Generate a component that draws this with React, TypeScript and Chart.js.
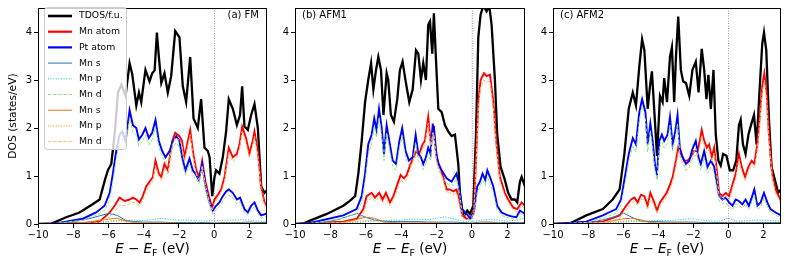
import React, { useEffect, useRef } from 'react';
import { Chart, registerables } from 'chart.js';

Chart.register(...registerables);

// ---------- shared axis data ----------
const xTicks = [-10, -8, -6, -4, -2, 0, 2];
const yTicks = [0, 1, 2, 3, 4];
const xMin = -10;
const xMax = 3;
const yMin = 0;
const yMax = 4.5;

const seriesLabels = ['TDOS/f.u.', 'Mn atom', 'Pt atom', 'Mn s', 'Mn p', 'Mn d', 'Mn s', 'Mn p', 'Mn d'];
const seriesColors = ['#000000', '#ff0000', '#0000ff', '#1f77b4', '#17becf', '#98df8a', '#e0702a', '#ff8c00', '#ffbb78'];
const seriesWidths = [2.3, 1.9, 1.9, 1, 1, 1, 1, 1, 1];
const seriesDashes: number[][] = [[], [], [], [], [1, 1.6], [3.5, 1.6], [], [1, 1.6], [3.5, 1.6]];

// coarse energy grid used by the small s / p projections
const smallE = [-10, -9.5, -9, -8.5, -8, -7.5, -7, -6.5, -6, -5.5, -5, -4.5, -4, -3.5, -3, -2.5, -2, -1.5, -1, -0.5, 0, 0.5, 1, 1.5, 2, 2.5, 3];

// ---------- (a) FM ----------
const fmTdosE = [-10, -9.3, -8.4, -7.64, -6.9, -6.5, -6.2, -6.03, -5.84, -5.65, -5.46, -5.27, -5.03, -4.8, -4.65, -4.42, -4.27, -4.14, -3.9, -3.67, -3.52, -3.38, -3.25, -3.14, -3.0, -2.82, -2.63, -2.44, -2.21, -1.97, -1.78, -1.59, -1.36, -1.17, -0.93, -0.74, -0.55, -0.36, -0.26, -0.11, 0.02, 0.11, 0.3, 0.49, 0.68, 0.83, 1.06, 1.29, 1.47, 1.59, 1.72, 1.91, 2.1, 2.29, 2.48, 2.67, 2.86, 3.0];
const fmTdos = [0, 0, 0.14, 0.24, 0.41, 0.51, 0.92, 1.12, 1.25, 1.86, 2.74, 2.9, 2.67, 3.35, 3.12, 2.47, 2.74, 2.54, 3.21, 2.97, 3.14, 3.2, 3.99, 3.48, 2.94, 3.14, 2.74, 3.08, 4.02, 3.89, 2.87, 2.54, 3.48, 2.2, 2.0, 2.6, 1.59, 1.52, 1.39, 0.58, 0.98, 1.12, 1.05, 1.39, 1.93, 2.6, 2.4, 2.06, 2.27, 2.87, 2.03, 1.96, 2.27, 2.5, 2.0, 0.78, 0.65, 0.7];
const fmMnE = [-10, -7.0, -6.5, -5.93, -5.65, -5.37, -5.08, -4.8, -4.61, -4.42, -4.23, -4.05, -3.86, -3.67, -3.48, -3.33, -3.14, -3.0, -2.82, -2.63, -2.38, -2.21, -1.97, -1.82, -1.69, -1.53, -1.36, -1.21, -1.02, -0.83, -0.68, -0.49, -0.3, -0.11, 0.02, 0.21, 0.4, 0.59, 0.83, 1.06, 1.29, 1.44, 1.59, 1.81, 2.0, 2.19, 2.29, 2.48, 2.67, 2.86, 3.0];
const fmMn = [0, 0.02, 0.05, 0.24, 0.38, 0.55, 0.48, 0.51, 0.55, 0.51, 0.45, 0.58, 0.78, 0.88, 0.98, 1.32, 1.05, 0.98, 1.25, 1.12, 1.73, 1.9, 1.83, 1.73, 1.39, 1.66, 1.96, 1.52, 1.12, 0.98, 1.32, 0.88, 0.58, 0.34, 0.51, 0.61, 0.72, 0.98, 1.59, 1.39, 1.46, 1.66, 2.03, 1.79, 1.46, 1.73, 1.93, 1.52, 0.78, 0.45, 0.38];
const fmMnD2 = [0, 0.01, 0.03, 0.15, 0.25, 0.4, 0.38, 0.42, 0.45, 0.43, 0.38, 0.5, 0.7, 0.8, 0.9, 1.22, 0.97, 0.9, 1.16, 1.04, 1.63, 1.8, 1.74, 1.64, 1.3, 1.57, 1.86, 1.43, 1.04, 0.9, 1.22, 0.8, 0.5, 0.28, 0.44, 0.54, 0.65, 0.9, 1.5, 1.3, 1.38, 1.57, 1.93, 1.7, 1.38, 1.64, 1.83, 1.43, 0.7, 0.39, 0.33];
const fmPtE = [-10, -9.0, -7.45, -6.7, -6.22, -5.93, -5.75, -5.56, -5.37, -5.22, -5.03, -4.8, -4.61, -4.42, -4.27, -4.08, -3.9, -3.71, -3.52, -3.33, -3.14, -2.95, -2.76, -2.53, -2.34, -2.15, -1.97, -1.82, -1.63, -1.4, -1.21, -1.02, -0.87, -0.68, -0.49, -0.26, -0.08, 0.11, 0.3, 0.49, 0.68, 0.83, 1.06, 1.29, 1.47, 1.72, 1.91, 2.1, 2.29, 2.48, 2.67, 3.0];
const fmPt = [0, 0.01, 0.11, 0.24, 0.38, 0.65, 1.05, 1.52, 1.86, 1.93, 1.73, 2.37, 2.06, 2.0, 1.76, 1.86, 2.0, 1.79, 1.9, 2.17, 1.73, 1.52, 1.39, 1.52, 1.73, 1.83, 1.73, 1.39, 1.12, 1.36, 1.12, 1.02, 0.92, 1.25, 0.78, 0.45, 0.28, 0.38, 0.45, 0.58, 0.68, 0.72, 0.65, 0.51, 0.55, 0.31, 0.24, 0.38, 0.45, 0.28, 0.18, 0.22];
const fmMnD1 = [0, 0.01, 0.08, 0.18, 0.28, 0.5, 0.88, 1.35, 1.7, 1.78, 1.6, 2.2, 1.9, 1.85, 1.62, 1.72, 1.85, 1.65, 1.76, 2.02, 1.6, 1.4, 1.28, 1.4, 1.6, 1.7, 1.6, 1.28, 1.02, 1.25, 1.02, 0.93, 0.84, 1.15, 0.7, 0.38, 0.2, 0.3, 0.36, 0.48, 0.56, 0.6, 0.54, 0.42, 0.46, 0.24, 0.18, 0.3, 0.36, 0.21, 0.12, 0.16];
const fmMnS1 = [0, 0, 0.01, 0.03, 0.05, 0.08, 0.12, 0.17, 0.22, 0.18, 0.07, 0.05, 0.04, 0.04, 0.04, 0.03, 0.03, 0.03, 0.03, 0.03, 0.02, 0.03, 0.03, 0.03, 0.04, 0.03, 0.03];
const fmMnP1 = [0, 0, 0, 0, 0, 0.01, 0.01, 0.02, 0.04, 0.06, 0.08, 0.08, 0.07, 0.09, 0.12, 0.09, 0.08, 0.08, 0.07, 0.06, 0.07, 0.08, 0.08, 0.09, 0.08, 0.06, 0.05];
const fmMnS2 = [0, 0, 0, 0.01, 0.02, 0.03, 0.05, 0.08, 0.1, 0.12, 0.06, 0.03, 0.02, 0.02, 0.02, 0.02, 0.01, 0.01, 0.01, 0.01, 0.01, 0.01, 0.01, 0.01, 0.01, 0.01, 0.01];
const fmMnP2 = [0, 0, 0, 0, 0.01, 0.01, 0.02, 0.04, 0.06, 0.08, 0.05, 0.03, 0.03, 0.03, 0.03, 0.03, 0.02, 0.02, 0.02, 0.02, 0.02, 0.03, 0.03, 0.03, 0.03, 0.02, 0.02];

// ---------- (b) AFM1 ----------
const afm1TdosE = [-10, -9.6, -9.15, -8.2, -7.27, -6.9, -6.6, -6.42, -6.23, -6.04, -5.86, -5.7, -5.57, -5.42, -5.29, -5.14, -5.0, -4.82, -4.73, -4.58, -4.41, -4.22, -4.07, -3.92, -3.73, -3.54, -3.35, -3.16, -3.03, -2.88, -2.75, -2.6, -2.47, -2.37, -2.24, -2.15, -2.03, -1.9, -1.71, -1.53, -1.34, -1.15, -0.96, -0.77, -0.68, -0.55, -0.4, -0.26, -0.11, 0.08, 0.23, 0.36, 0.49, 0.64, 0.83, 0.98, 1.11, 1.3, 1.43, 1.62, 1.86, 2.05, 2.24, 2.43, 2.56, 2.71, 2.81, 3.0];
const afm1Tdos = [0, 0, 0.07, 0.21, 0.38, 0.48, 0.58, 1.05, 1.73, 2.54, 3.0, 3.35, 2.8, 3.21, 3.48, 3.21, 2.27, 3.14, 3.0, 2.27, 2.13, 2.6, 3.21, 3.38, 2.94, 2.54, 2.8, 3.62, 3.55, 3.0, 3.35, 3.0, 4.15, 4.22, 3.55, 4.39, 3.41, 2.4, 2.33, 2.06, 1.93, 1.83, 1.86, 1.25, 0.65, 0.28, 0.18, 0.28, 0.21, 0.38, 1.86, 3.89, 4.36, 4.55, 4.43, 4.55, 4.16, 3.0, 1.86, 1.19, 0.92, 0.65, 0.51, 0.51, 0.45, 0.88, 0.98, 0.78];
const afm1MnE = [-10, -7.27, -6.5, -6.14, -5.95, -5.67, -5.48, -5.24, -5.05, -4.86, -4.63, -4.44, -4.22, -4.03, -3.84, -3.69, -3.5, -3.31, -3.13, -2.98, -2.79, -2.66, -2.47, -2.34, -2.18, -2.0, -1.81, -1.62, -1.43, -1.24, -1.05, -0.87, -0.72, -0.55, -0.3, -0.08, 0.11, 0.23, 0.36, 0.49, 0.68, 0.83, 1.02, 1.21, 1.39, 1.58, 1.86, 2.05, 2.34, 2.56, 2.81, 3.0];
const afm1Mn = [0, 0.05, 0.11, 0.31, 0.58, 0.65, 0.55, 0.65, 0.51, 0.65, 0.45, 0.58, 0.82, 1.02, 0.95, 1.02, 1.22, 1.39, 1.52, 1.46, 1.66, 1.73, 2.23, 1.73, 2.0, 1.39, 1.19, 0.98, 0.72, 0.72, 0.68, 0.72, 0.51, 0.18, 0.11, 0.12, 0.31, 1.32, 2.54, 3.0, 3.14, 3.08, 3.11, 2.54, 1.66, 0.98, 0.65, 0.51, 0.34, 0.31, 0.45, 0.38];
const afm1MnD2 = [0, 0.03, 0.07, 0.2, 0.45, 0.55, 0.47, 0.56, 0.44, 0.56, 0.38, 0.5, 0.72, 0.92, 0.86, 0.93, 1.12, 1.3, 1.42, 1.37, 1.56, 1.63, 2.1, 1.63, 1.9, 1.3, 1.1, 0.9, 0.65, 0.65, 0.61, 0.65, 0.45, 0.14, 0.08, 0.09, 0.25, 1.2, 2.4, 2.86, 3.0, 2.95, 2.98, 2.42, 1.56, 0.9, 0.58, 0.45, 0.29, 0.26, 0.38, 0.32];
const afm1PtE = [-10, -9.15, -7.27, -6.52, -6.23, -6.04, -5.86, -5.67, -5.52, -5.39, -5.25, -5.1, -4.97, -4.82, -4.67, -4.48, -4.29, -4.1, -3.94, -3.75, -3.56, -3.35, -3.18, -3.03, -2.88, -2.75, -2.6, -2.47, -2.34, -2.22, -2.15, -2.03, -1.9, -1.71, -1.43, -1.15, -0.87, -0.72, -0.55, -0.3, -0.08, 0.11, 0.3, 0.45, 0.6, 0.75, 0.87, 1.02, 1.21, 1.43, 1.68, 1.96, 2.24, 2.52, 2.71, 3.0];
const afm1Pt = [0, 0.02, 0.18, 0.31, 0.58, 1.05, 1.66, 1.86, 2.2, 1.96, 2.4, 2.0, 1.46, 2.06, 1.73, 1.32, 1.25, 1.73, 2.0, 1.52, 1.32, 1.39, 1.86, 1.46, 1.39, 1.25, 1.39, 1.59, 1.46, 2.06, 2.03, 1.52, 1.25, 1.12, 0.95, 0.88, 1.05, 0.78, 0.31, 0.21, 0.11, 0.24, 0.78, 0.88, 1.05, 0.92, 1.12, 0.98, 0.78, 0.38, 0.24, 0.19, 0.16, 0.14, 0.28, 0.21];
const afm1MnD1 = [0, 0.01, 0.12, 0.22, 0.45, 0.88, 1.45, 1.68, 2.02, 1.8, 2.22, 1.84, 1.32, 1.9, 1.58, 1.2, 1.12, 1.58, 1.84, 1.38, 1.2, 1.26, 1.7, 1.32, 1.26, 1.13, 1.26, 1.45, 1.32, 1.9, 1.87, 1.38, 1.13, 1.0, 0.85, 0.78, 0.94, 0.68, 0.24, 0.15, 0.07, 0.17, 0.66, 0.76, 0.9, 0.8, 0.98, 0.85, 0.66, 0.3, 0.18, 0.14, 0.11, 0.1, 0.22, 0.16];
const afm1MnS1 = [0, 0, 0.01, 0.03, 0.06, 0.1, 0.16, 0.22, 0.14, 0.08, 0.06, 0.05, 0.05, 0.05, 0.05, 0.04, 0.04, 0.04, 0.04, 0.03, 0.02, 0.04, 0.04, 0.03, 0.03, 0.03, 0.03];
const afm1MnP1 = [0, 0, 0, 0, 0, 0.01, 0.02, 0.03, 0.05, 0.06, 0.07, 0.08, 0.08, 0.1, 0.1, 0.09, 0.12, 0.15, 0.1, 0.06, 0.04, 0.08, 0.1, 0.08, 0.06, 0.08, 0.12];
const afm1MnS2 = [0, 0, 0, 0.01, 0.02, 0.03, 0.05, 0.1, 0.14, 0.12, 0.04, 0.03, 0.02, 0.02, 0.02, 0.02, 0.02, 0.01, 0.01, 0.01, 0.01, 0.02, 0.02, 0.01, 0.01, 0.01, 0.01];
const afm1MnP2 = [0, 0, 0, 0, 0.01, 0.02, 0.03, 0.05, 0.07, 0.08, 0.04, 0.03, 0.03, 0.03, 0.03, 0.03, 0.03, 0.02, 0.02, 0.02, 0.01, 0.03, 0.04, 0.03, 0.02, 0.02, 0.02];

// ---------- (c) AFM2 ----------
const afm2TdosE = [-10, -9.1, -8.1, -7.16, -6.6, -6.2, -5.93, -5.68, -5.45, -5.27, -5.08, -4.92, -4.79, -4.6, -4.47, -4.36, -4.22, -4.07, -3.9, -3.75, -3.66, -3.5, -3.33, -3.22, -3.09, -2.99, -2.86, -2.71, -2.58, -2.42, -2.23, -2.05, -1.86, -1.7, -1.52, -1.38, -1.25, -1.14, -1.0, -0.85, -0.72, -0.57, -0.44, -0.3, -0.11, 0.08, 0.27, 0.45, 0.6, 0.7, 0.83, 0.98, 1.14, 1.29, 1.46, 1.61, 1.78, 1.93, 2.03, 2.16, 2.31, 2.46, 2.65, 2.84, 3.0];
const afm2Tdos = [0, 0, 0.18, 0.31, 0.51, 0.72, 1.46, 2.4, 2.74, 2.47, 3.28, 3.85, 3.62, 2.4, 2.87, 3.18, 2.33, 1.42, 2.67, 2.54, 3.04, 2.54, 3.48, 3.68, 2.54, 3.48, 4.32, 3.21, 2.97, 2.94, 2.67, 3.21, 3.38, 2.74, 3.65, 3.21, 2.6, 3.11, 2.4, 3.21, 1.86, 1.32, 1.22, 1.46, 1.42, 1.12, 1.12, 1.32, 2.06, 2.17, 1.66, 1.46, 1.86, 2.06, 2.27, 1.66, 2.8, 3.75, 3.99, 3.62, 2.2, 1.19, 0.92, 0.65, 0.72];
const afm2MnE = [-10, -7.16, -6.2, -5.83, -5.55, -5.36, -5.17, -4.98, -4.79, -4.6, -4.45, -4.26, -4.07, -3.9, -3.71, -3.52, -3.33, -3.18, -2.99, -2.86, -2.71, -2.52, -2.33, -2.14, -1.95, -1.76, -1.63, -1.52, -1.38, -1.23, -1.1, -0.95, -0.81, -0.66, -0.53, -0.34, -0.15, 0.04, 0.23, 0.42, 0.6, 0.76, 0.95, 1.14, 1.33, 1.48, 1.65, 1.78, 1.93, 2.05, 2.18, 2.31, 2.5, 2.69, 3.0];
const afm2Mn = [0, 0.05, 0.18, 0.38, 0.51, 0.55, 0.45, 0.61, 0.58, 0.38, 0.65, 0.48, 0.28, 0.45, 0.55, 0.65, 0.82, 0.98, 1.32, 1.59, 1.46, 1.32, 1.32, 1.39, 1.52, 1.52, 1.73, 1.96, 1.73, 1.59, 1.66, 1.39, 1.59, 1.12, 0.65, 0.58, 0.65, 0.58, 0.82, 1.05, 1.46, 1.19, 0.98, 1.19, 1.32, 1.25, 1.66, 2.2, 2.87, 3.14, 2.74, 1.86, 1.05, 0.72, 0.48];
const afm2MnD2 = [0, 0.03, 0.12, 0.28, 0.42, 0.47, 0.38, 0.52, 0.5, 0.3, 0.56, 0.4, 0.22, 0.38, 0.47, 0.57, 0.73, 0.88, 1.22, 1.48, 1.36, 1.22, 1.22, 1.3, 1.42, 1.42, 1.62, 1.85, 1.62, 1.48, 1.55, 1.3, 1.48, 1.03, 0.57, 0.5, 0.57, 0.5, 0.73, 0.95, 1.35, 1.1, 0.9, 1.1, 1.22, 1.16, 1.55, 2.08, 2.74, 3.0, 2.6, 1.75, 0.96, 0.64, 0.42];
const afm2PtE = [-10, -8.1, -7.16, -6.4, -6.12, -5.87, -5.68, -5.45, -5.27, -5.08, -4.92, -4.73, -4.6, -4.45, -4.32, -4.17, -4.07, -3.94, -3.79, -3.66, -3.47, -3.33, -3.18, -3.03, -2.9, -2.77, -2.61, -2.42, -2.23, -2.05, -1.86, -1.7, -1.57, -1.38, -1.19, -1.0, -0.81, -0.66, -0.53, -0.34, -0.15, 0.04, 0.23, 0.42, 0.6, 0.8, 0.98, 1.17, 1.33, 1.48, 1.65, 1.84, 2.03, 2.22, 2.4, 2.69, 3.0];
const afm2Pt = [0, 0.05, 0.18, 0.31, 0.51, 1.05, 1.46, 1.79, 1.66, 2.33, 2.6, 2.33, 1.66, 2.1, 1.73, 1.19, 1.05, 1.73, 1.86, 1.73, 1.86, 2.23, 1.66, 1.93, 2.27, 1.59, 1.39, 1.25, 1.32, 1.56, 1.73, 1.39, 1.25, 1.52, 1.19, 1.32, 1.19, 0.85, 0.58, 0.51, 0.55, 0.45, 0.38, 0.51, 0.48, 0.41, 0.51, 0.38, 0.55, 0.72, 0.38, 0.45, 0.65, 0.45, 0.31, 0.24, 0.18];
const afm2MnD1 = [0, 0.03, 0.12, 0.22, 0.4, 0.88, 1.3, 1.62, 1.5, 2.15, 2.45, 2.18, 1.5, 1.95, 1.58, 1.05, 0.92, 1.58, 1.7, 1.58, 1.7, 2.06, 1.52, 1.77, 2.1, 1.45, 1.26, 1.12, 1.18, 1.42, 1.58, 1.26, 1.12, 1.38, 1.06, 1.18, 1.06, 0.74, 0.48, 0.42, 0.45, 0.36, 0.3, 0.42, 0.39, 0.33, 0.42, 0.3, 0.46, 0.6, 0.3, 0.36, 0.54, 0.36, 0.24, 0.18, 0.13];
const afm2MnS1 = [0, 0, 0, 0.01, 0.03, 0.06, 0.1, 0.15, 0.23, 0.14, 0.06, 0.05, 0.05, 0.04, 0.04, 0.04, 0.04, 0.03, 0.03, 0.03, 0.03, 0.03, 0.03, 0.03, 0.03, 0.03, 0.03];
const afm2MnP1 = [0, 0, 0, 0, 0, 0.01, 0.01, 0.02, 0.04, 0.05, 0.06, 0.07, 0.07, 0.07, 0.08, 0.1, 0.11, 0.08, 0.06, 0.06, 0.12, 0.06, 0.07, 0.08, 0.08, 0.07, 0.06];
const afm2MnS2 = [0, 0, 0, 0, 0.01, 0.02, 0.04, 0.07, 0.11, 0.12, 0.09, 0.03, 0.02, 0.02, 0.02, 0.02, 0.01, 0.01, 0.01, 0.01, 0.01, 0.01, 0.01, 0.01, 0.01, 0.01, 0.01];
const afm2MnP2 = [0, 0, 0, 0, 0.01, 0.01, 0.02, 0.04, 0.06, 0.07, 0.06, 0.03, 0.03, 0.03, 0.03, 0.03, 0.02, 0.02, 0.02, 0.02, 0.03, 0.03, 0.03, 0.02, 0.02, 0.02, 0.02];

const FONT = "'DejaVu Sans', 'Liberation Sans', sans-serif";

type PanelSpec = {
  tag: string;
  tagRight: boolean;
  left: number;
  width: number;
  axisW: number;
  padRight: number;
  yTitle: boolean;
  legend: boolean;
  zeroWide: boolean;
  series: [number[], number[]][];
};

const panels: PanelSpec[] = [
  {
    tag: '(a) FM', tagRight: true, left: 0, width: 272, axisW: 38, padRight: 5, yTitle: true, legend: true, zeroWide: false,
    series: [[fmTdosE, fmTdos], [fmMnE, fmMn], [fmPtE, fmPt], [smallE, fmMnS1], [smallE, fmMnP1], [fmPtE, fmMnD1], [smallE, fmMnS2], [smallE, fmMnP2], [fmMnE, fmMnD2]],
  },
  {
    tag: '(b) AFM1', tagRight: false, left: 272, width: 258, axisW: 23, padRight: 5, yTitle: false, legend: false, zeroWide: true,
    series: [[afm1TdosE, afm1Tdos], [afm1MnE, afm1Mn], [afm1PtE, afm1Pt], [smallE, afm1MnS1], [smallE, afm1MnP1], [afm1PtE, afm1MnD1], [smallE, afm1MnS2], [smallE, afm1MnP2], [afm1MnE, afm1MnD2]],
  },
  {
    tag: '(c) AFM2', tagRight: false, left: 530, width: 255, axisW: 23, padRight: 4, yTitle: false, legend: false, zeroWide: false,
    series: [[afm2TdosE, afm2Tdos], [afm2MnE, afm2Mn], [afm2PtE, afm2Pt], [smallE, afm2MnS1], [smallE, afm2MnP1], [afm2PtE, afm2MnD1], [smallE, afm2MnS2], [smallE, afm2MnP2], [afm2MnE, afm2MnD2]],
  },
];

const H = 262;

function pts(e: number[], v: number[]) {
  const n = Math.min(e.length, v.length);
  const out: { x: number; y: number }[] = [];
  for (let i = 0; i < n; i++) out.push({ x: e[i], y: v[i] });
  return out;
}

function fmt(v: number) {
  return v < 0 ? '\u2212' + Math.abs(v) : String(v);
}

function makeDecor(spec: PanelSpec) {
  return {
    id: 'decor',
    beforeDatasetsDraw(chart: any) {
      const { ctx, chartArea } = chart;
      const x0 = Math.round(chart.scales.x.getPixelForValue(0)) + 0.5;
      ctx.save();
      ctx.strokeStyle = spec.zeroWide ? '#b0b0b0' : '#808080';
      ctx.lineWidth = spec.zeroWide ? 1.6 : 0.8;
      ctx.setLineDash([1, 1.5]);
      ctx.beginPath();
      ctx.moveTo(x0, chartArea.top);
      ctx.lineTo(x0, chartArea.bottom);
      ctx.stroke();
      ctx.restore();
    },
    afterDatasetsDraw(chart: any) {
      const { ctx, chartArea } = chart;
      const l = Math.round(chartArea.left) + 0.5;
      const r = Math.round(chartArea.right) - 0.5;
      const t = Math.round(chartArea.top) + 0.5;
      const b = Math.round(chartArea.bottom) - 0.5;
      ctx.save();
      ctx.setLineDash([]);
      ctx.strokeStyle = '#000';
      ctx.lineWidth = 1;
      ctx.strokeRect(l, t, r - l, b - t);

      // panel tag
      ctx.fillStyle = '#000';
      ctx.font = `10px ${FONT}`;
      ctx.textBaseline = 'middle';
      if (spec.tagRight) {
        ctx.textAlign = 'right';
        ctx.fillText(spec.tag, chartArea.right - 8, 15);
      } else {
        ctx.textAlign = 'left';
        ctx.fillText(spec.tag, chartArea.left + 7, 15);
      }

      // x axis title: E − E_F (eV)
      const fs = 13.5;
      const parts = [
        { s: 'E', f: `italic ${fs}px ${FONT}`, dy: 0 },
        { s: ' \u2212 ', f: `${fs}px ${FONT}`, dy: 0 },
        { s: 'E', f: `italic ${fs}px ${FONT}`, dy: 0 },
        { s: 'F', f: `${fs * 0.7}px ${FONT}`, dy: 3 },
        { s: ' (eV)', f: `${fs}px ${FONT}`, dy: 0 },
      ];
      let total = 0;
      const widths = parts.map((p) => {
        ctx.font = p.f;
        const w = ctx.measureText(p.s).width;
        total += w;
        return w;
      });
      let cx = (chartArea.left + chartArea.right) / 2 - total / 2;
      ctx.textAlign = 'left';
      ctx.textBaseline = 'alphabetic';
      parts.forEach((p, i) => {
        ctx.font = p.f;
        ctx.fillText(p.s, cx, 253 + p.dy);
        cx += widths[i];
      });

      // y axis title
      if (spec.yTitle) {
        ctx.save();
        ctx.translate(13, (chartArea.top + chartArea.bottom) / 2);
        ctx.rotate(-Math.PI / 2);
        ctx.font = `10.7px ${FONT}`;
        ctx.textAlign = 'center';
        ctx.textBaseline = 'middle';
        ctx.fillText('DOS (states/eV)', 0, 0);
        ctx.restore();
      }

      // legend
      if (spec.legend) {
        const bx = 44.5, by = 7.5, bw = 82, bh = 142, rad = 3;
        ctx.beginPath();
        ctx.moveTo(bx + rad, by);
        ctx.lineTo(bx + bw - rad, by);
        ctx.quadraticCurveTo(bx + bw, by, bx + bw, by + rad);
        ctx.lineTo(bx + bw, by + bh - rad);
        ctx.quadraticCurveTo(bx + bw, by + bh, bx + bw - rad, by + bh);
        ctx.lineTo(bx + rad, by + bh);
        ctx.quadraticCurveTo(bx, by + bh, bx, by + bh - rad);
        ctx.lineTo(bx, by + rad);
        ctx.quadraticCurveTo(bx, by, bx + rad, by);
        ctx.closePath();
        ctx.fillStyle = 'rgba(255,255,255,0.8)';
        ctx.fill();
        ctx.strokeStyle = '#cccccc';
        ctx.lineWidth = 1;
        ctx.stroke();
        chart.data.datasets.forEach((ds: any, i: number) => {
          const y = 16 + i * 15.7;
          ctx.strokeStyle = ds.borderColor;
          ctx.lineWidth = i < 3 ? ds.borderWidth + 0.3 : ds.borderWidth;
          ctx.setLineDash(ds.borderDash || []);
          ctx.beginPath();
          ctx.moveTo(48, y);
          ctx.lineTo(72, y);
          ctx.stroke();
          ctx.setLineDash([]);
          ctx.fillStyle = '#000';
          ctx.font = `9.3px ${FONT}`;
          ctx.textAlign = 'left';
          ctx.textBaseline = 'middle';
          ctx.fillText(ds.label, 79, y);
        });
      }
      ctx.restore();
    },
  };
}

function Panel({ spec }: { spec: PanelSpec }) {
  const ref = useRef<HTMLCanvasElement | null>(null);
  useEffect(() => {
    if (!ref.current) return;
    const n = spec.series.length;
    const datasets = spec.series.map(([e, v], i) => ({
      label: seriesLabels[i],
      data: pts(e, v),
      borderColor: seriesColors[i],
      backgroundColor: seriesColors[i],
      borderWidth: seriesWidths[i],
      borderDash: seriesDashes[i],
      pointRadius: 0,
      fill: false,
      tension: 0,
      order: n - i,
    }));
    const tickFont = { family: FONT, size: 10 };
    const chart = new Chart(ref.current, {
      type: 'line',
      data: { datasets },
      options: {
        responsive: false,
        animation: false,
        devicePixelRatio: 1,
        layout: { padding: { top: 2, right: spec.padRight, left: 0, bottom: 0 } },
        plugins: { legend: { display: false }, tooltip: { enabled: false } },
        scales: {
          x: {
            type: 'linear',
            min: xMin,
            max: xMax,
            afterBuildTicks: (s: any) => { s.ticks = xTicks.map((v) => ({ value: v })); },
            afterFit: (s: any) => { s.height = 38; },
            ticks: { callback: (v: any) => fmt(Number(v)), font: tickFont, color: '#000', padding: 1, maxRotation: 0, autoSkip: false },
            grid: { display: true, drawOnChartArea: false, drawTicks: true, tickLength: 4, color: '#000', lineWidth: 1 },
            border: { display: false },
          },
          y: {
            type: 'linear',
            min: yMin,
            max: yMax,
            afterBuildTicks: (s: any) => { s.ticks = yTicks.map((v) => ({ value: v })); },
            afterFit: (s: any) => { s.width = spec.axisW; },
            ticks: { callback: (v: any) => fmt(Number(v)), font: tickFont, color: '#000', padding: 2, autoSkip: false },
            grid: { display: true, drawOnChartArea: false, drawTicks: true, tickLength: 4, color: '#000', lineWidth: 1 },
            border: { display: false },
          },
        },
      } as any,
      plugins: [makeDecor(spec)],
    });
    return () => chart.destroy();
  }, [spec]);
  return (
    <canvas
      ref={ref}
      width={spec.width}
      height={H}
      style={{ position: 'absolute', left: spec.left, top: 0, width: spec.width, height: H, display: 'block' }}
    />
  );
}

export default function App() {
  return (
    <div style={{ position: 'fixed', left: 0, top: 0, width: 785, height: H, background: '#fff', overflow: 'hidden' }}>
      {panels.map((p) => (
        <Panel key={p.tag} spec={p} />
      ))}
    </div>
  );
}
